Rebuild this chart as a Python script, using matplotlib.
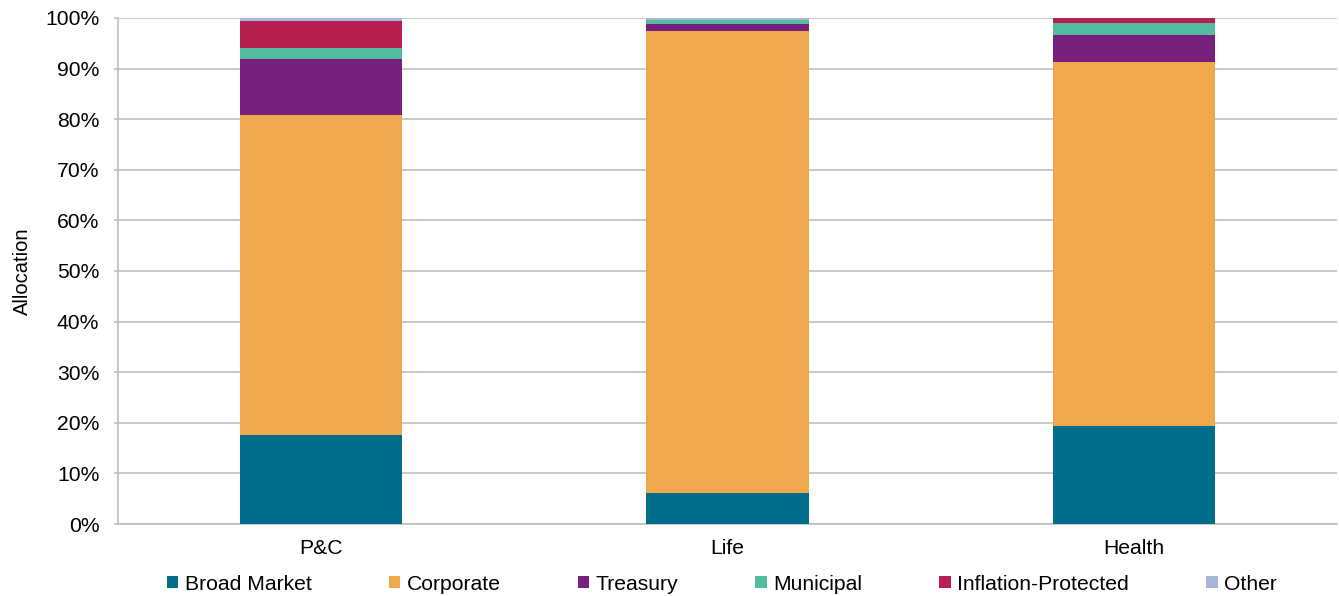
import matplotlib
matplotlib.use("Agg")
import matplotlib.pyplot as plt
import numpy as np
from matplotlib.ticker import PercentFormatter

plt.rcParams['font.family'] = ['Liberation Sans', 'DejaVu Sans']

categories = ["P&C", "Life", "Health"]
series_names = ["Broad Market", "Corporate", "Treasury", "Municipal", "Inflation-Protected", "Other"]
broad_market = [17.6, 6.1, 19.4]
corporate = [63.2, 91.4, 72.0]
treasury = [11.1, 1.4, 5.2]
municipal = [2.1, 0.8, 2.4]
inflation_protected = [5.4, 0.0, 1.0]
other = [0.6, 0.3, 0.0]
colors = ["#006E8A", "#F0A84C", "#77207E", "#52BBA0", "#B91F4F", "#A9B5DC"]

series = [broad_market, corporate, treasury, municipal, inflation_protected, other]

fig = plt.figure(figsize=(13.39, 5.96), dpi=100)
ax = fig.add_axes([118/1339, 1 - 524/596, (1337-118)/1339, (524-18)/596])

x = np.arange(len(categories))
bottom = np.zeros(len(categories))
for name, vals, c in zip(series_names, series, colors):
    ax.bar(x, vals, 0.4, bottom=bottom, color=c, label=name, zorder=3)
    bottom += np.array(vals)

ax.set_xlim(-0.5, 2.5)
ax.set_ylim(0, 100)
ax.set_yticks(np.arange(0, 101, 10))
ax.yaxis.set_major_formatter(PercentFormatter(decimals=0))
ax.set_xticks(x)
ax.set_xticklabels(categories)
ax.grid(axis='y', color='#BFBFBF', linewidth=1.2, zorder=0)
for s in ['top', 'right']:
    ax.spines[s].set_visible(False)
for s in ['left', 'bottom']:
    ax.spines[s].set_color('#BFBFBF')
    ax.spines[s].set_linewidth(1.2)
ax.tick_params(axis='y', length=3, color='#BFBFBF', labelsize=15.2, pad=10.5, width=1.2)
ax.tick_params(axis='x', length=0, labelsize=15.2, pad=11)
ax.set_ylabel("Allocation", fontsize=14.5)
ax.yaxis.set_label_coords(-0.0706, 0.5)

leg = fig.legend(loc='center', bbox_to_anchor=(0.539, 1 - 584/596), ncol=6, frameon=False,
                 fontsize=15.2, handlelength=0.55, handleheight=0.55, handletextpad=0.3,
                 columnspacing=3.65)

fig.savefig("out.png", dpi=100)
